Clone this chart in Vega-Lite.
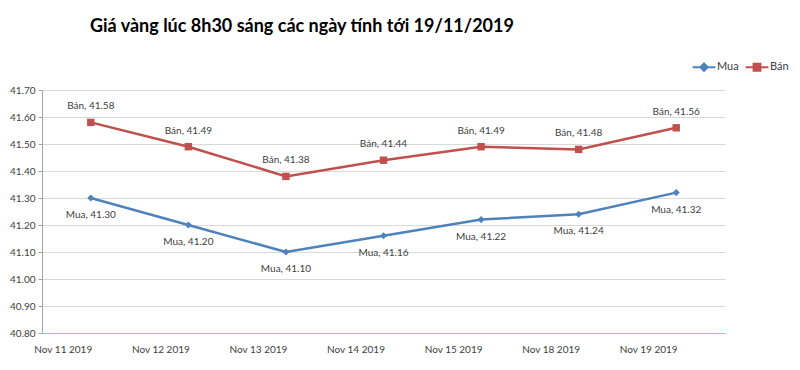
{
  "$schema": "https://vega.github.io/schema/vega-lite/v6.json",
  "width": 683,
  "height": 243,
  "autosize": {"type": "none"},
  "padding": {"left": 42, "top": 90, "right": 75, "bottom": 37},
  "background": "white",
  "config": {
    "view": {"stroke": null},
    "font": "Lato",
    "axis": {"labelFont": "Lato", "labelFontSize": 10, "labelColor": "#595959"}
  },
  "title": {
    "text": "Giá vàng lúc 8h30 sáng các ngày tính tới 19/11/2019",
    "anchor": "start",
    "frame": "group",
    "dx": 48,
    "offset": 24,
    "font": "Lato",
    "fontSize": 18,
    "fontWeight": "bold",
    "color": "#000000"
  },
  "data": {
    "values": [
      {"date": "Nov 11 2019", "series": "Mua", "price": 41.30},
      {"date": "Nov 12 2019", "series": "Mua", "price": 41.20},
      {"date": "Nov 13 2019", "series": "Mua", "price": 41.10},
      {"date": "Nov 14 2019", "series": "Mua", "price": 41.16},
      {"date": "Nov 15 2019", "series": "Mua", "price": 41.22},
      {"date": "Nov 18 2019", "series": "Mua", "price": 41.24},
      {"date": "Nov 19 2019", "series": "Mua", "price": 41.32},
      {"date": "Nov 11 2019", "series": "Bán", "price": 41.58},
      {"date": "Nov 12 2019", "series": "Bán", "price": 41.49},
      {"date": "Nov 13 2019", "series": "Bán", "price": 41.38},
      {"date": "Nov 14 2019", "series": "Bán", "price": 41.44},
      {"date": "Nov 15 2019", "series": "Bán", "price": 41.49},
      {"date": "Nov 18 2019", "series": "Bán", "price": 41.48},
      {"date": "Nov 19 2019", "series": "Bán", "price": 41.56}
    ]
  },
  "transform": [
    {"calculate": "datum.series + ', ' + format(datum.price, '.2f')", "as": "label"}
  ],
  "encoding": {
    "x": {
      "field": "date",
      "type": "ordinal",
      "sort": null,
      "scale": {"type": "point", "padding": 0.5},
      "axis": {
        "title": null,
        "labelAngle": 0,
        "ticks": false,
        "labelPadding": 11,
        "labelOffset": -28,
        "labelColor": "#404040",
        "domainColor": "#86d0d0",
        "domainWidth": 1,
        "grid": false,
        "labelFontSize": 10
      }
    },
    "y": {
      "field": "price",
      "type": "quantitative",
      "scale": {"domain": [40.8, 41.7], "nice": false, "zero": false},
      "axis": {
        "title": null,
        "values": [40.8, 40.9, 41.0, 41.1, 41.2, 41.3, 41.4, 41.5, 41.6, 41.7],
        "format": ".2f",
        "grid": true,
        "gridColor": "#d9d9d9",
        "domainColor": "#a6a6a6",
        "tickColor": "#a6a6a6",
        "tickSize": 4,
        "labelPadding": 3,
        "labelColor": "#404040"
      }
    },
    "color": {
      "field": "series",
      "type": "nominal",
      "scale": {"domain": ["Mua", "Bán"], "range": ["#4F81BD", "#C0504D"]},
      "legend": {
        "title": null,
        "orient": "none",
        "direction": "horizontal",
        "legendX": 655,
        "legendY": -30,
        "padding": 0,
        "symbolSize": 130,
        "labelOffset": 6,
        "columnPadding": 2,
        "labelFont": "Lato",
        "labelFontSize": 11,
        "labelColor": "#404040",
        "encode": {
          "symbols": {
            "update": {
              "fill": {"scale": "color", "field": "value"},
              "stroke": {"scale": "color", "field": "value"},
              "strokeWidth": {"value": 2},
              "opacity": {"value": 1}
            }
          }
        }
      }
    }
  },
  "layer": [
    {
      "mark": {"type": "line", "strokeWidth": 2.5},
      "encoding": {"detail": {"field": "series"}}
    },
    {
      "transform": [{"filter": "datum.series === 'Mua'"}],
      "mark": {"type": "point", "shape": "diamond", "filled": true, "size": 50, "opacity": 1}
    },
    {
      "transform": [{"filter": "datum.series === 'Bán'"}],
      "mark": {"type": "point", "shape": "square", "filled": true, "size": 55, "opacity": 1}
    },
    {
      "transform": [{"filter": "datum.series === 'Mua'"}],
      "mark": {"type": "text", "dy": 17, "fontSize": 10, "font": "Lato", "color": "#404040"},
      "encoding": {"text": {"field": "label"}, "color": {"value": "#404040"}}
    },
    {
      "transform": [{"filter": "datum.series === 'Bán'"}],
      "mark": {"type": "text", "dy": -16, "fontSize": 10, "font": "Lato", "color": "#404040"},
      "encoding": {"text": {"field": "label"}, "color": {"value": "#404040"}}
    },
    {
      "mark": {"type": "point", "filled": true, "opacity": 0},
      "encoding": {
        "shape": {
          "field": "series",
          "type": "nominal",
          "scale": {
            "domain": ["Mua", "Bán"],
            "range": ["M-2,0H2M0,-0.65L0.65,0L0,0.65L-0.65,0Z", "M-2,0H2M-0.6,-0.6H0.6V0.6H-0.6Z"]
          },
          "legend": {"title": null}
        }
      }
    }
  ]
}
